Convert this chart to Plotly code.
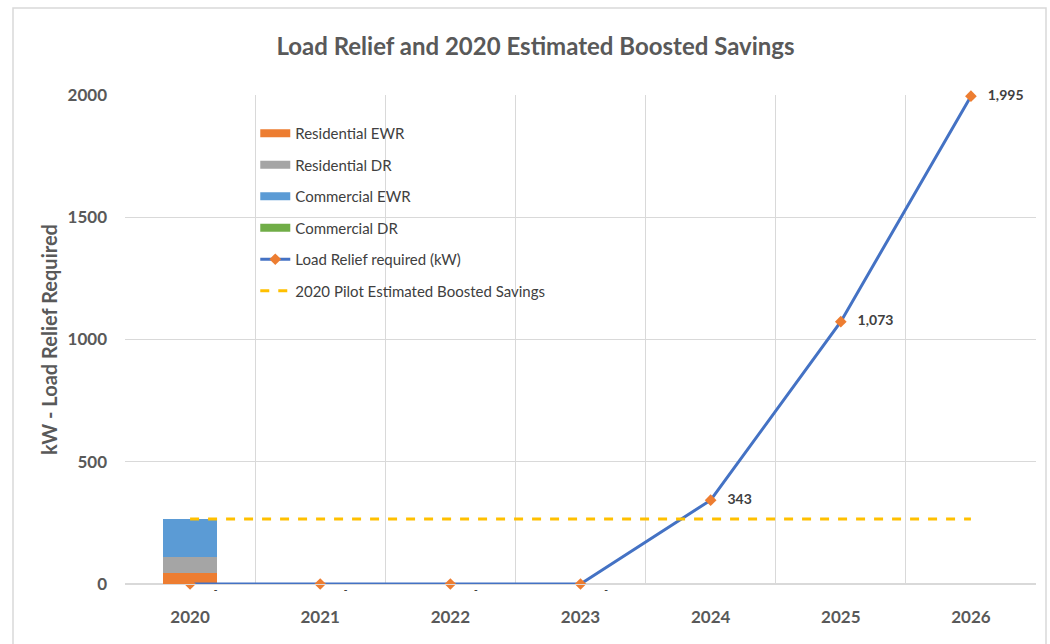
import plotly.graph_objects as go

years = ["2020", "2021", "2022", "2023", "2024", "2025", "2026"]
res_ewr = [45, None, None, None, None, None, None]
res_dr = [66, None, None, None, None, None, None]
com_ewr = [156, None, None, None, None, None, None]
com_dr = [0, None, None, None, None, None, None]
load_relief = [0, 0, 0, 0, 343, 1073, 1995]
load_labels = [" <br>       -", " <br>       -", " <br>       -", " <br>       -",
               "   343", "   1,073", "   1,995"]
pilot_savings = [266, 266, 266, 266, 266, 266, 266]

FONT = "Lato, Liberation Sans, sans-serif"
TXT = "#595959"

colors = {"Residential EWR": "#ed7d31", "Residential DR": "#a5a5a5",
          "Commercial EWR": "#5b9bd5", "Commercial DR": "#70ad47"}

fig = go.Figure()
bar_data = [("Residential EWR", res_ewr), ("Residential DR", res_dr),
            ("Commercial EWR", com_ewr), ("Commercial DR", com_dr)]
for name, vals in bar_data:
    fig.add_trace(go.Bar(x=years, y=vals, name=name, marker_color=colors[name],
                         marker_line_width=0, showlegend=False, width=0.41))
# legend entries for bars (wide flat swatches like the original)
for name, vals in bar_data:
    fig.add_trace(go.Scatter(x=[None], y=[None], mode="lines", name=name,
                             line=dict(color=colors[name], width=8),
                             legendgroup=name))

fig.add_trace(go.Scatter(x=years, y=load_relief, name="Load Relief required (kW)",
                         mode="lines+markers+text", text=load_labels,
                         textposition="middle right",
                         textfont=dict(family=FONT, size=[10] * 4 + [14] * 3,
                                       color="#404040", weight="bold"),
                         line=dict(color="#4472c4", width=3),
                         marker=dict(symbol="diamond", size=9, color="#ed7d31"),
                         legendgroup="load", cliponaxis=False))
fig.add_trace(go.Scatter(x=years, y=pilot_savings, name="2020 Pilot Estimated Boosted Savings",
                         mode="lines", line=dict(color="#ffc000", width=3, dash="dash"),
                         legendgroup="pilot"))

fig.update_layout(
    width=1050, height=644,
    margin=dict(l=125, r=14, t=95, b=60),
    paper_bgcolor="white", plot_bgcolor="white",
    barmode="stack",
    title=dict(text="Load Relief and 2020 Estimated Boosted Savings",
               x=0.51, xanchor="center", y=0.928, yanchor="middle",
               font=dict(family=FONT, size=24, color=TXT, weight="bold")),
    font=dict(family=FONT, color=TXT),
    legend=dict(x=0.143, y=0.955, xanchor="left", yanchor="top",
                bgcolor="rgba(0,0,0,0)", traceorder="grouped", tracegroupgap=9,
                font=dict(family=FONT, size=15, color="#404040")),
    showlegend=True,
)
fig.update_xaxes(type="category", tickson="boundaries", showgrid=True,
                 gridcolor="#d9d9d9", gridwidth=1, ticks="", showline=True,
                 linecolor="#d9d9d9", mirror=False, range=[-0.5, 6.5],
                 ticklabelstandoff=18,
                 tickfont=dict(family=FONT, size=17, color=TXT, weight="bold"))
fig.update_yaxes(range=[0, 2000], dtick=500, showgrid=True, gridcolor="#d9d9d9",
                 zeroline=True, zerolinecolor="#d9d9d9", showline=False,
                 ticks="", ticklabelstandoff=17,
                 tickfont=dict(family=FONT, size=17, color=TXT, weight="bold"),
                 title=dict(text="kW - Load Relief Required", standoff=4,
                            font=dict(family=FONT, size=20, color=TXT, weight="bold")))
fig.add_shape(type="rect", xref="paper", yref="paper",
              x0=(13 - 125) / 911, x1=(1046 - 125) / 911,
              y0=-0.2, y1=(584 - 8) / 489,
              line=dict(color="#d9d9d9", width=1.5), layer="below")

fig.write_html("out.html")
